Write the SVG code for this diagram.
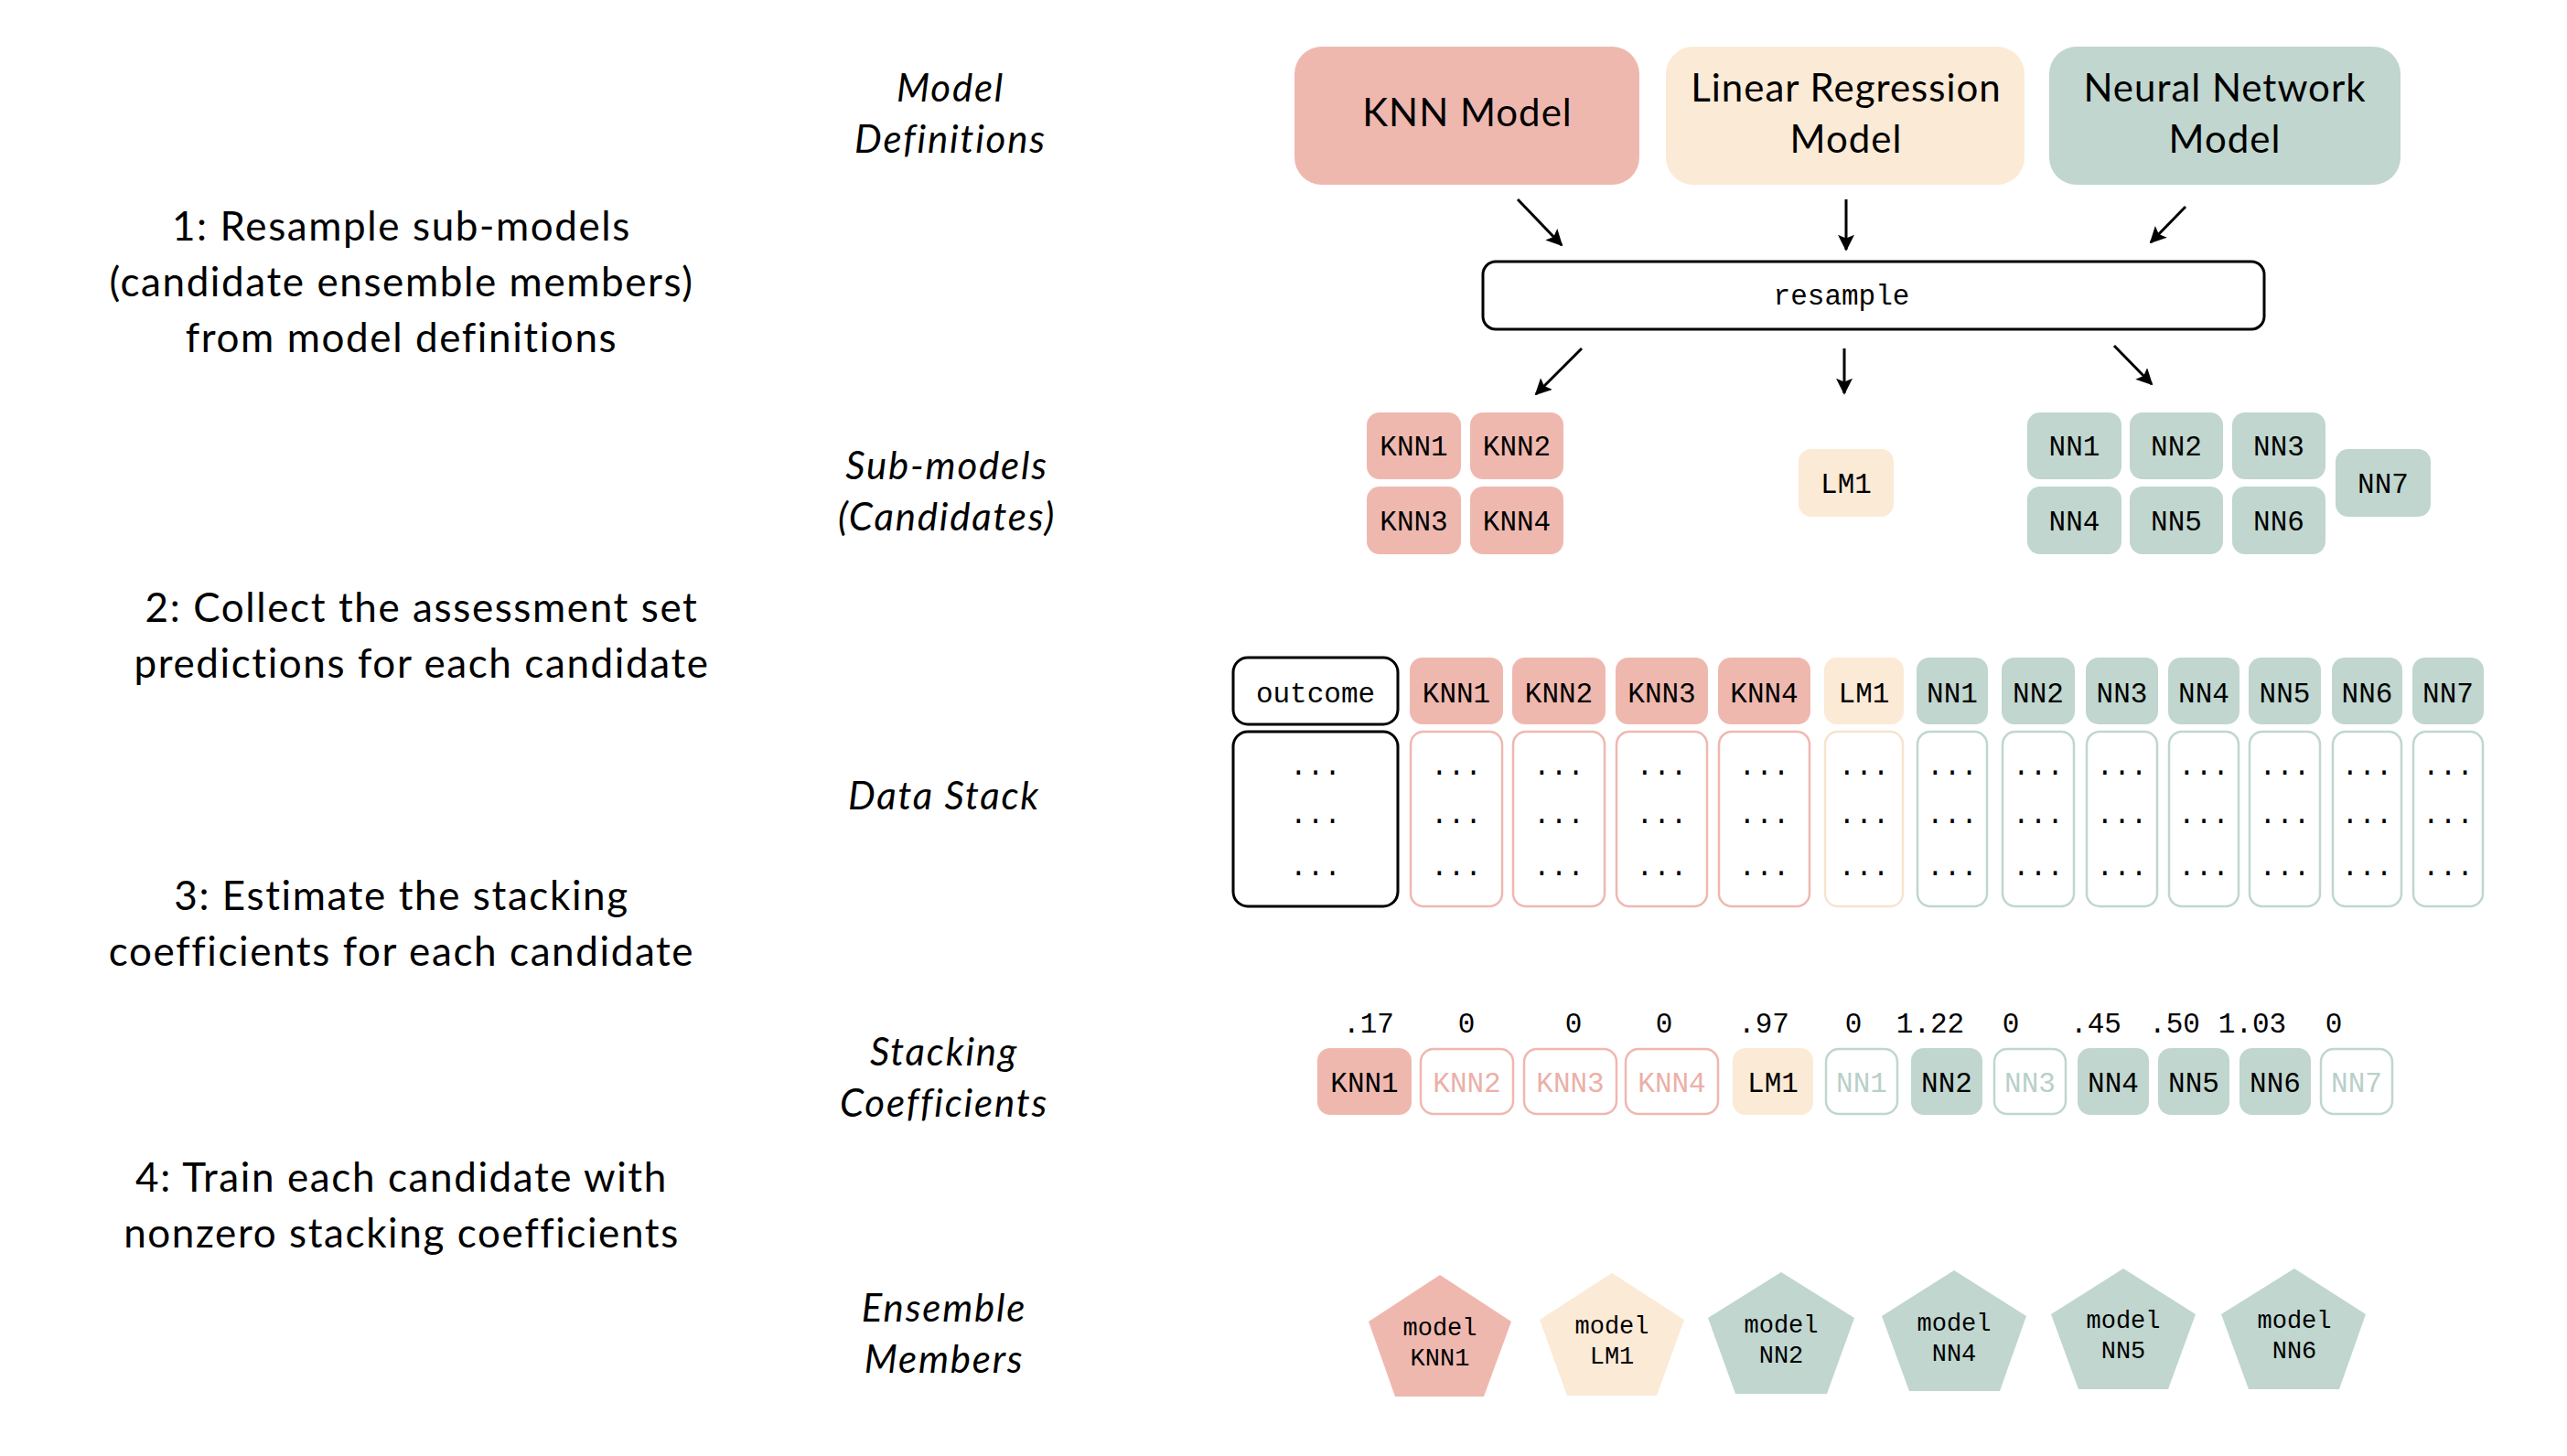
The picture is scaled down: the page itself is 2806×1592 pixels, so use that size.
<svg xmlns="http://www.w3.org/2000/svg" width="2806" height="1592" viewBox="0 0 2806 1592">
  <style>
    .step { font-family: Lato, "Liberation Sans", sans-serif; font-size: 44px; letter-spacing: 1.6px; fill: #000; text-anchor: middle; }
    .tier { font-family: Lato, "Liberation Sans", sans-serif; font-style: italic; font-size: 42px; letter-spacing: 1.8px; fill: #000; text-anchor: middle; }
    .big { font-family: Lato, "Liberation Sans", sans-serif; font-size: 42px; letter-spacing: 1px; fill: #000; text-anchor: middle; }
    .mono { font-family: "Liberation Mono", "Courier New", monospace; font-size: 31px; fill: #000; text-anchor: middle; }
    .small { font-family: "Liberation Mono", "Courier New", monospace; font-size: 27px; fill: #000; text-anchor: middle; }
    .knn { fill: #EFB8AF; }
    .lm { fill: #FBEAD6; }
    .nn { fill: #C0D6CF; }
    .knn-o { fill: #fff; stroke: #EFB8AF; stroke-width: 2.5; }
    .lm-o { fill: #fff; stroke: #F7E4CE; stroke-width: 2.5; }
    .nn-o { fill: #fff; stroke: #C0D6CF; stroke-width: 2.5; }
    .knn-t { fill: #EBB0A7; }
    .nn-t { fill: #B8D0C8; }
    .blk { fill: #fff; stroke: #000; stroke-width: 3; }
    .arrow { stroke: #000; stroke-width: 3; fill: none; marker-end: url(#head); }
  </style>
  <defs>
    <marker id="head" viewBox="0 0 10 10" refX="9" refY="5" markerWidth="6" markerHeight="6" markerUnits="strokeWidth" orient="auto">
      <path d="M0,0 L10,5 L0,10 L2,5 z" fill="#000"/>
    </marker>
  </defs>
  <rect width="2806" height="1592" fill="#fff"/>

  <!-- step descriptions -->
  <g id="steps">
    <text class="step" x="439" y="263">1: Resample sub-models</text>
    <text class="step" x="439" y="324">(candidate ensemble members)</text>
    <text class="step" x="439" y="385">from model definitions</text>
    <text class="step" x="461" y="680">2: Collect the assessment set</text>
    <text class="step" x="461" y="741">predictions for each candidate</text>
    <text class="step" x="439" y="995">3: Estimate the stacking</text>
    <text class="step" x="439" y="1056">coefficients for each candidate</text>
    <text class="step" x="439" y="1303">4: Train each candidate with</text>
    <text class="step" x="439" y="1364">nonzero stacking coefficients</text>
  </g>

  <!-- tier labels -->
  <g id="tiers">
    <text class="tier" x="1039" y="111">Model</text>
    <text class="tier" x="1039" y="167">Definitions</text>
    <text class="tier" x="1035" y="524">Sub-models</text>
    <text class="tier" x="1035" y="580">(Candidates)</text>
    <text class="tier" x="1032" y="885">Data Stack</text>
    <text class="tier" x="1032" y="1165">Stacking</text>
    <text class="tier" x="1032" y="1221">Coefficients</text>
    <text class="tier" x="1032" y="1445">Ensemble</text>
    <text class="tier" x="1032" y="1501">Members</text>
  </g>

  <!-- model definitions -->
  <g id="def-knn">
    <rect class="knn" x="1415" y="51" width="377" height="151" rx="30"/>
    <text class="big" x="1604" y="138">KNN Model</text>
  </g>
  <g id="def-lm">
    <rect class="lm" x="1821" y="51" width="392" height="151" rx="30"/>
    <text class="big" x="2018" y="111">Linear Regression</text>
    <text class="big" x="2018" y="167">Model</text>
  </g>
  <g id="def-nn">
    <rect class="nn" x="2240" y="51" width="384" height="151" rx="30"/>
    <text class="big" x="2432" y="111">Neural Network</text>
    <text class="big" x="2432" y="167">Model</text>
  </g>

  <g id="resample">
    <rect class="blk" x="1621" y="286" width="854" height="74" rx="14"/>
    <text class="mono" x="2013" y="333">resample</text>
  </g>

  <!-- connectors -->
  <g id="connectors">
    <line class="arrow" x1="1659" y1="218" x2="1707" y2="268"/>
    <line class="arrow" x1="2018" y1="218" x2="2018" y2="273"/>
    <line class="arrow" x1="2389" y1="226" x2="2351" y2="265"/>
    <line class="arrow" x1="1729" y1="381" x2="1679" y2="431"/>
    <line class="arrow" x1="2016" y1="381" x2="2016" y2="430"/>
    <line class="arrow" x1="2311" y1="378" x2="2352" y2="420"/>
  </g>

  <!-- sub-models -->
  <g id="sub-knn1"><rect class="knn" x="1494" y="451" width="103" height="73" rx="14"/><text class="mono" x="1545.5" y="498">KNN1</text></g>
  <g id="sub-knn2"><rect class="knn" x="1607" y="451" width="102" height="73" rx="14"/><text class="mono" x="1658" y="498">KNN2</text></g>
  <g id="sub-knn3"><rect class="knn" x="1494" y="532" width="103" height="74" rx="14"/><text class="mono" x="1545.5" y="580">KNN3</text></g>
  <g id="sub-knn4"><rect class="knn" x="1607" y="532" width="102" height="74" rx="14"/><text class="mono" x="1658" y="580">KNN4</text></g>
  <g id="sub-lm1"><rect class="lm" x="1966" y="491" width="104" height="74" rx="14"/><text class="mono" x="2018" y="539">LM1</text></g>
  <g id="sub-nn1"><rect class="nn" x="2216" y="451" width="103" height="73" rx="14"/><text class="mono" x="2267.5" y="498">NN1</text></g>
  <g id="sub-nn2"><rect class="nn" x="2328" y="451" width="102" height="73" rx="14"/><text class="mono" x="2379" y="498">NN2</text></g>
  <g id="sub-nn3"><rect class="nn" x="2440" y="451" width="102" height="73" rx="14"/><text class="mono" x="2491" y="498">NN3</text></g>
  <g id="sub-nn4"><rect class="nn" x="2216" y="532" width="103" height="74" rx="14"/><text class="mono" x="2267.5" y="580">NN4</text></g>
  <g id="sub-nn5"><rect class="nn" x="2328" y="532" width="102" height="74" rx="14"/><text class="mono" x="2379" y="580">NN5</text></g>
  <g id="sub-nn6"><rect class="nn" x="2440" y="532" width="102" height="74" rx="14"/><text class="mono" x="2491" y="580">NN6</text></g>
  <g id="sub-nn7"><rect class="nn" x="2553" y="491" width="104" height="74" rx="14"/><text class="mono" x="2605" y="539">NN7</text></g>

  <!-- data stack columns -->
  <g id="col-outcome">
    <rect class="blk" x="1348" y="719" width="180" height="73" rx="16"/>
    <text class="mono" x="1438" y="768">outcome</text>
    <rect class="blk" x="1348" y="800" width="180" height="191" rx="16"/>
    <text class="mono" x="1438" y="847">...</text><text class="mono" x="1438" y="900">...</text><text class="mono" x="1438" y="957">...</text>
  </g>
  <g id="col-knn1">
    <rect class="knn" x="1541" y="719" width="102" height="73" rx="14"/><text class="mono" x="1592" y="768">KNN1</text>
    <rect class="knn-o" x="1542" y="800" width="100" height="191" rx="14"/>
    <text class="mono" x="1592" y="847">...</text><text class="mono" x="1592" y="900">...</text><text class="mono" x="1592" y="957">...</text>
  </g>
  <g id="col-knn2">
    <rect class="knn" x="1653" y="719" width="102" height="73" rx="14"/><text class="mono" x="1704" y="768">KNN2</text>
    <rect class="knn-o" x="1654" y="800" width="100" height="191" rx="14"/>
    <text class="mono" x="1704" y="847">...</text><text class="mono" x="1704" y="900">...</text><text class="mono" x="1704" y="957">...</text>
  </g>
  <g id="col-knn3">
    <rect class="knn" x="1766" y="719" width="101" height="73" rx="14"/><text class="mono" x="1816.5" y="768">KNN3</text>
    <rect class="knn-o" x="1767" y="800" width="99" height="191" rx="14"/>
    <text class="mono" x="1816.5" y="847">...</text><text class="mono" x="1816.5" y="900">...</text><text class="mono" x="1816.5" y="957">...</text>
  </g>
  <g id="col-knn4">
    <rect class="knn" x="1878" y="719" width="101" height="73" rx="14"/><text class="mono" x="1928.5" y="768">KNN4</text>
    <rect class="knn-o" x="1879" y="800" width="99" height="191" rx="14"/>
    <text class="mono" x="1928.5" y="847">...</text><text class="mono" x="1928.5" y="900">...</text><text class="mono" x="1928.5" y="957">...</text>
  </g>
  <g id="col-lm1">
    <rect class="lm" x="1994" y="719" width="87" height="73" rx="14"/><text class="mono" x="2037.5" y="768">LM1</text>
    <rect class="lm-o" x="1995" y="800" width="85" height="191" rx="14"/>
    <text class="mono" x="2037.5" y="847">...</text><text class="mono" x="2037.5" y="900">...</text><text class="mono" x="2037.5" y="957">...</text>
  </g>
  <g id="col-nn1">
    <rect class="nn" x="2095" y="719" width="78" height="73" rx="14"/><text class="mono" x="2134" y="768">NN1</text>
    <rect class="nn-o" x="2096" y="800" width="76" height="191" rx="14"/>
    <text class="mono" x="2134" y="847">...</text><text class="mono" x="2134" y="900">...</text><text class="mono" x="2134" y="957">...</text>
  </g>
  <g id="col-nn2">
    <rect class="nn" x="2188" y="719" width="80" height="73" rx="14"/><text class="mono" x="2228" y="768">NN2</text>
    <rect class="nn-o" x="2189" y="800" width="78" height="191" rx="14"/>
    <text class="mono" x="2228" y="847">...</text><text class="mono" x="2228" y="900">...</text><text class="mono" x="2228" y="957">...</text>
  </g>
  <g id="col-nn3">
    <rect class="nn" x="2280" y="719" width="79" height="73" rx="14"/><text class="mono" x="2319.5" y="768">NN3</text>
    <rect class="nn-o" x="2281" y="800" width="77" height="191" rx="14"/>
    <text class="mono" x="2319.5" y="847">...</text><text class="mono" x="2319.5" y="900">...</text><text class="mono" x="2319.5" y="957">...</text>
  </g>
  <g id="col-nn4">
    <rect class="nn" x="2370" y="719" width="78" height="73" rx="14"/><text class="mono" x="2409" y="768">NN4</text>
    <rect class="nn-o" x="2371" y="800" width="76" height="191" rx="14"/>
    <text class="mono" x="2409" y="847">...</text><text class="mono" x="2409" y="900">...</text><text class="mono" x="2409" y="957">...</text>
  </g>
  <g id="col-nn5">
    <rect class="nn" x="2458" y="719" width="79" height="73" rx="14"/><text class="mono" x="2497.5" y="768">NN5</text>
    <rect class="nn-o" x="2459" y="800" width="77" height="191" rx="14"/>
    <text class="mono" x="2497.5" y="847">...</text><text class="mono" x="2497.5" y="900">...</text><text class="mono" x="2497.5" y="957">...</text>
  </g>
  <g id="col-nn6">
    <rect class="nn" x="2549" y="719" width="77" height="73" rx="14"/><text class="mono" x="2587.5" y="768">NN6</text>
    <rect class="nn-o" x="2550" y="800" width="75" height="191" rx="14"/>
    <text class="mono" x="2587.5" y="847">...</text><text class="mono" x="2587.5" y="900">...</text><text class="mono" x="2587.5" y="957">...</text>
  </g>
  <g id="col-nn7">
    <rect class="nn" x="2637" y="719" width="78" height="73" rx="14"/><text class="mono" x="2676" y="768">NN7</text>
    <rect class="nn-o" x="2638" y="800" width="76" height="191" rx="14"/>
    <text class="mono" x="2676" y="847">...</text><text class="mono" x="2676" y="900">...</text><text class="mono" x="2676" y="957">...</text>
  </g>

  <!-- stacking coefficients -->
  <g id="coefficients">
    <text class="mono" x="1496" y="1129">.17</text>
    <text class="mono" x="1603" y="1129">0</text>
    <text class="mono" x="1720" y="1129">0</text>
    <text class="mono" x="1819" y="1129">0</text>
    <text class="mono" x="1928" y="1129">.97</text>
    <text class="mono" x="2026" y="1129">0</text>
    <text class="mono" x="2110" y="1129">1.22</text>
    <text class="mono" x="2198" y="1129">0</text>
    <text class="mono" x="2291" y="1129">.45</text>
    <text class="mono" x="2377" y="1129">.50</text>
    <text class="mono" x="2462" y="1129">1.03</text>
    <text class="mono" x="2551" y="1129">0</text>
  </g>
  <g id="coef-knn1"><rect class="knn" x="1440" y="1146" width="103" height="73" rx="14"/><text class="mono" x="1491.5" y="1194">KNN1</text></g>
  <g id="coef-knn2"><rect class="knn-o" x="1553" y="1147" width="101" height="71" rx="14"/><text class="mono knn-t" x="1603.5" y="1194">KNN2</text></g>
  <g id="coef-knn3"><rect class="knn-o" x="1666" y="1147" width="101" height="71" rx="14"/><text class="mono knn-t" x="1716.5" y="1194">KNN3</text></g>
  <g id="coef-knn4"><rect class="knn-o" x="1777" y="1147" width="101" height="71" rx="14"/><text class="mono knn-t" x="1827.5" y="1194">KNN4</text></g>
  <g id="coef-lm1"><rect class="lm" x="1894" y="1146" width="88" height="73" rx="14"/><text class="mono" x="1938" y="1194">LM1</text></g>
  <g id="coef-nn1"><rect class="nn-o" x="1996" y="1147" width="78" height="71" rx="14"/><text class="mono nn-t" x="2035" y="1194">NN1</text></g>
  <g id="coef-nn2"><rect class="nn" x="2089" y="1146" width="78" height="73" rx="14"/><text class="mono" x="2128" y="1194">NN2</text></g>
  <g id="coef-nn3"><rect class="nn-o" x="2180" y="1147" width="78" height="71" rx="14"/><text class="mono nn-t" x="2219" y="1194">NN3</text></g>
  <g id="coef-nn4"><rect class="nn" x="2271" y="1146" width="78" height="73" rx="14"/><text class="mono" x="2310" y="1194">NN4</text></g>
  <g id="coef-nn5"><rect class="nn" x="2359" y="1146" width="78" height="73" rx="14"/><text class="mono" x="2398" y="1194">NN5</text></g>
  <g id="coef-nn6"><rect class="nn" x="2448" y="1146" width="78" height="73" rx="14"/><text class="mono" x="2487" y="1194">NN6</text></g>
  <g id="coef-nn7"><rect class="nn-o" x="2537" y="1147" width="78" height="71" rx="14"/><text class="mono nn-t" x="2576" y="1194">NN7</text></g>

  <!-- ensemble members -->
  <g id="member-knn1">
    <polygon class="knn" points="1574,1394 1652,1445 1622,1527 1525,1527 1496,1445"/>
    <text class="small" x="1574" y="1460">model</text><text class="small" x="1574" y="1493">KNN1</text>
  </g>
  <g id="member-lm1">
    <polygon class="lm" points="1762,1392 1841,1443 1811,1526 1713,1526 1683,1443"/>
    <text class="small" x="1762" y="1458">model</text><text class="small" x="1762" y="1491">LM1</text>
  </g>
  <g id="member-nn2">
    <polygon class="nn" points="1947,1391 2027,1441 1997,1524 1897,1524 1867,1441"/>
    <text class="small" x="1947" y="1457">model</text><text class="small" x="1947" y="1490">NN2</text>
  </g>
  <g id="member-nn4">
    <polygon class="nn" points="2136,1389 2215,1439 2186,1521 2087,1521 2057,1439"/>
    <text class="small" x="2136" y="1455">model</text><text class="small" x="2136" y="1488">NN4</text>
  </g>
  <g id="member-nn5">
    <polygon class="nn" points="2321,1387 2400,1437 2370,1519 2272,1519 2242,1437"/>
    <text class="small" x="2321" y="1452">model</text><text class="small" x="2321" y="1485">NN5</text>
  </g>
  <g id="member-nn6">
    <polygon class="nn" points="2508,1387 2586,1437 2557,1519 2458,1519 2428,1437"/>
    <text class="small" x="2508" y="1452">model</text><text class="small" x="2508" y="1485">NN6</text>
  </g>
</svg>
